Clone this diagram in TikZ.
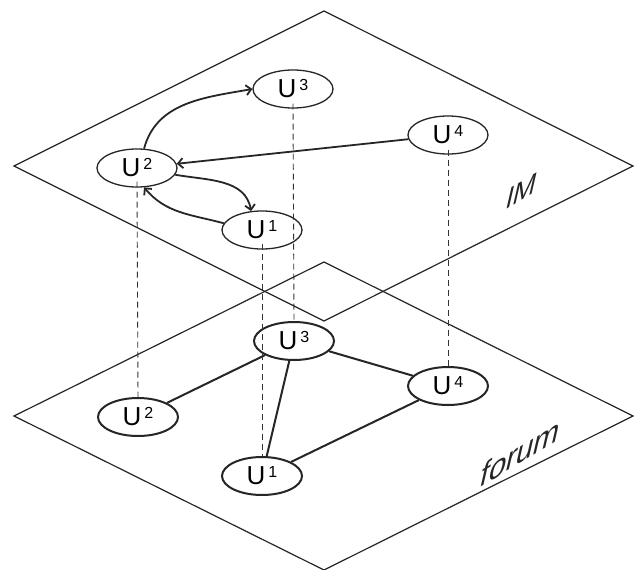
\documentclass[tikz,border=0pt]{standalone}
\usepackage{fontspec}
\setmainfont{Liberation Sans}
\usetikzlibrary{shapes.geometric,arrows.meta}
\newcommand\ulab[1]{{\fontsize{26}{26}\selectfont U}\kern3pt\raisebox{7pt}{\fontsize{16}{16}\selectfont #1}}
\begin{document}
\begin{tikzpicture}[x=1pt,y=1pt,
  plane/.style={draw=black!85, line width=1.2pt, line join=miter},
  unode/.style={ellipse, draw=black!85, minimum width=80pt, minimum height=38pt, inner sep=0pt},
  topnode/.style={unode, line width=1.3pt},
  fnode/.style={unode, line width=2pt},
  arr/.style={draw=black!85, line width=1.8pt, -{Straight Barb[length=5pt,width=10pt]}},
  fedge/.style={draw=black!85, line width=2pt},
  dline/.style={draw=black!80, line width=0.9pt, dash pattern=on 6pt off 4pt},
  lab/.style={inner sep=0pt, transform shape, text=black!85}
]
\useasboundingbox (0,0) rectangle (635,-570);
\fill[white] (0,0) rectangle (635,-570);
% planes
\draw[plane] (324,-262) -- (633,-416) -- (324,-570) -- (14,-416) -- cycle;
\draw[plane] (324,-11) -- (633,-166) -- (324,-321) -- (14,-166) -- cycle;
% top (IM) nodes
\node[topnode] (iu3) at (293,-89) {\ulab{3}};
\node[topnode] (iu4) at (448,-135) {\ulab{4}};
\node[topnode] (iu2) at (137,-168) {\ulab{2}};
\node[topnode] (iu1) at (262,-230) {\ulab{1}};
% forum nodes
\node[fnode] (fu3) at (294,-341) {\ulab{3}};
\node[fnode] (fu4) at (448,-386) {\ulab{4}};
\node[fnode] (fu2) at (138,-417) {\ulab{2}};
\node[fnode] (fu1) at (262,-476) {\ulab{1}};
% IM edges
\draw[arr] (iu2.70) to[out=75,in=190] (iu3.west);
\draw[arr] (iu4) -- (iu2);
\draw[arr] (iu2.-10) to[out=-10,in=100] (iu1.120);
\draw[arr] (iu1.170) to[out=165,in=-50] (iu2.-70);
% forum edges
\draw[fedge] (fu2) -- (fu3);
\draw[fedge] (fu3) -- (fu1);
\draw[fedge] (fu3) -- (fu4);
\draw[fedge] (fu4) -- (fu1);
% dashed correspondences
\draw[dline] ([yshift=6pt]iu2.south) -- (fu2.north);
\draw[dline] ([yshift=6pt]iu1.south) -- (fu1.north);
\draw[dline] ([yshift=5pt]iu3.south) -- (fu3.north);
\draw[dline] ([yshift=5pt]iu4.south) -- (fu4.north);
% labels
\begin{scope}[shift={(522,-191)}, cm={0.857,0.515,0.225,0.974,(0,0)}]
\node[lab, font=\fontsize{32}{32}\selectfont] (im) at (0,0) {IM};
\end{scope}
\begin{scope}[shift={(521,-452)}, cm={0.857,0.515,0.225,0.974,(0,0)}]
\node[lab, font=\fontsize{36}{36}\selectfont] (forum) at (0,0) {forum};
\end{scope}
\end{tikzpicture}
\end{document}
